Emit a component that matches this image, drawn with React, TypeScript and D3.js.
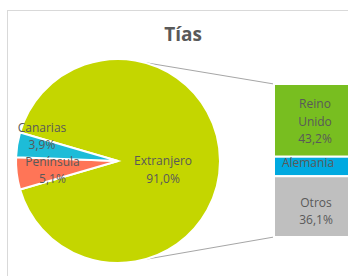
import { useMemo } from 'react'
import * as d3 from 'd3'

// main pie
const pieLabels = ['Extranjero', 'Península', 'Canarias']
const pieValues = [91.0, 5.1, 3.9]
const pieColors = ['#c4d600', '#ff7557', '#1dbcd8']

// breakdown of Extranjero
const barLabels = [['Reino', 'Unido'], ['Alemania'], ['Otros']]
const barValues = [43.2, 11.6, 36.1]
const barColors = ['#78be20', '#00a9e0', '#bfbfbf']

const fmt = (v: number) => v.toFixed(1).replace('.', ',') + '%'

const W = 348
const H = 276
const cx = 118
const cy = 161
const R = 102
const barX = 274
const barW = 82
const barTop = 84
const barBottom = 237
const font = "'Open Sans', sans-serif"
const textColor = '#595959'

// label placement tweaks (radius from center, vertical shift, line gap)
const pieLabelPos = [
  { r: 45, dy: 4, dx: 0, gap: 18 },
  { r: 66, dy: -3, dx: 0, gap: 17 },
  { r: 77, dy: -17, dx: 0, gap: 17 },
]
const barLabelPos = [
  { dx: 0, dy: -12 },
  { dx: -7, dy: 1 },
  { dx: 1, dy: 0 },
]

const App = () => {
  const total = d3.sum(pieValues)
  const start = Math.PI / 2 - (pieValues[0] / total) * Math.PI

  const arcs = useMemo(
    () =>
      d3
        .pie<number>()
        .sort(null)
        .startAngle(start)
        .endAngle(start + 2 * Math.PI)
        .value((d) => d)(pieValues),
    [],
  )

  const arc = d3.arc<d3.PieArcDatum<number>>().innerRadius(0).outerRadius(R)

  const y = d3
    .scaleLinear()
    .domain([0, d3.sum(barValues)])
    .range([barTop, barBottom])
  const cum = barValues.map((_, i) => d3.sum(barValues.slice(0, i)))

  // connector start points on the pie rim
  const connA = (15 * Math.PI) / 180
  const connB = (165 * Math.PI) / 180
  const rim = (a: number) => [cx + R * Math.sin(a), cy - R * Math.cos(a)]
  const [tx, ty] = rim(connA)
  const [bx, by] = rim(connB)

  return (
    <svg
      width={W}
      height={H}
      style={{ position: 'absolute', left: 0, top: 0, background: '#fff' }}
    >
      <rect x={7.5} y={10.5} width={W + 20} height={H + 20} fill="#fff" stroke="#d9d9d9" />
      <text
        x={183}
        y={41}
        textAnchor="middle"
        fontFamily={font}
        fontWeight="bold"
        fontSize={19}
        fill={textColor}
      >
        Tías
      </text>

      <line x1={tx} y1={ty} x2={barX} y2={barTop} stroke="#a6a6a6" strokeWidth={1} />
      <line x1={bx} y1={by} x2={barX} y2={barBottom} stroke="#a6a6a6" strokeWidth={1} />

      <g transform={`translate(${cx},${cy})`}>
        {arcs.map((a, i) => (
          <path key={i} d={arc(a) ?? ''} fill={pieColors[i]} stroke="#fff" strokeWidth={2} />
        ))}
      </g>

      {arcs.map((a, i) => {
        const mid = (a.startAngle + a.endAngle) / 2
        const p = pieLabelPos[i]
        const lx = cx + p.r * Math.sin(mid) + p.dx
        const ly = cy - p.r * Math.cos(mid) + p.dy
        return (
          <text
            key={i}
            x={lx}
            y={ly}
            textAnchor="middle"
            fontFamily={font}
            fontSize={12}
            fill={textColor}
          >
            <tspan x={lx}>{pieLabels[i]}</tspan>
            <tspan x={lx} dy={p.gap}>
              {fmt(pieValues[i])}
            </tspan>
          </text>
        )
      })}

      {barValues.map((v, i) => {
        const y0 = y(cum[i])
        const y1 = y(cum[i] + v)
        const p = barLabelPos[i]
        const lx = barX + barW / 2 + p.dx
        const mid = (y0 + y1) / 2 + p.dy
        const lines = [...barLabels[i], fmt(v)]
        return (
          <g key={i}>
            <rect
              x={barX}
              y={y0}
              width={barW}
              height={y1 - y0}
              fill={barColors[i]}
              stroke="#fff"
              strokeWidth={2}
            />
            <text textAnchor="middle" fontFamily={font} fontSize={12} fill={textColor}>
              {lines.map((t, j) => (
                <tspan key={j} x={lx} y={mid + j * 17.5}>
                  {t}
                </tspan>
              ))}
            </text>
          </g>
        )
      })}
    </svg>
  )
}

export default App
